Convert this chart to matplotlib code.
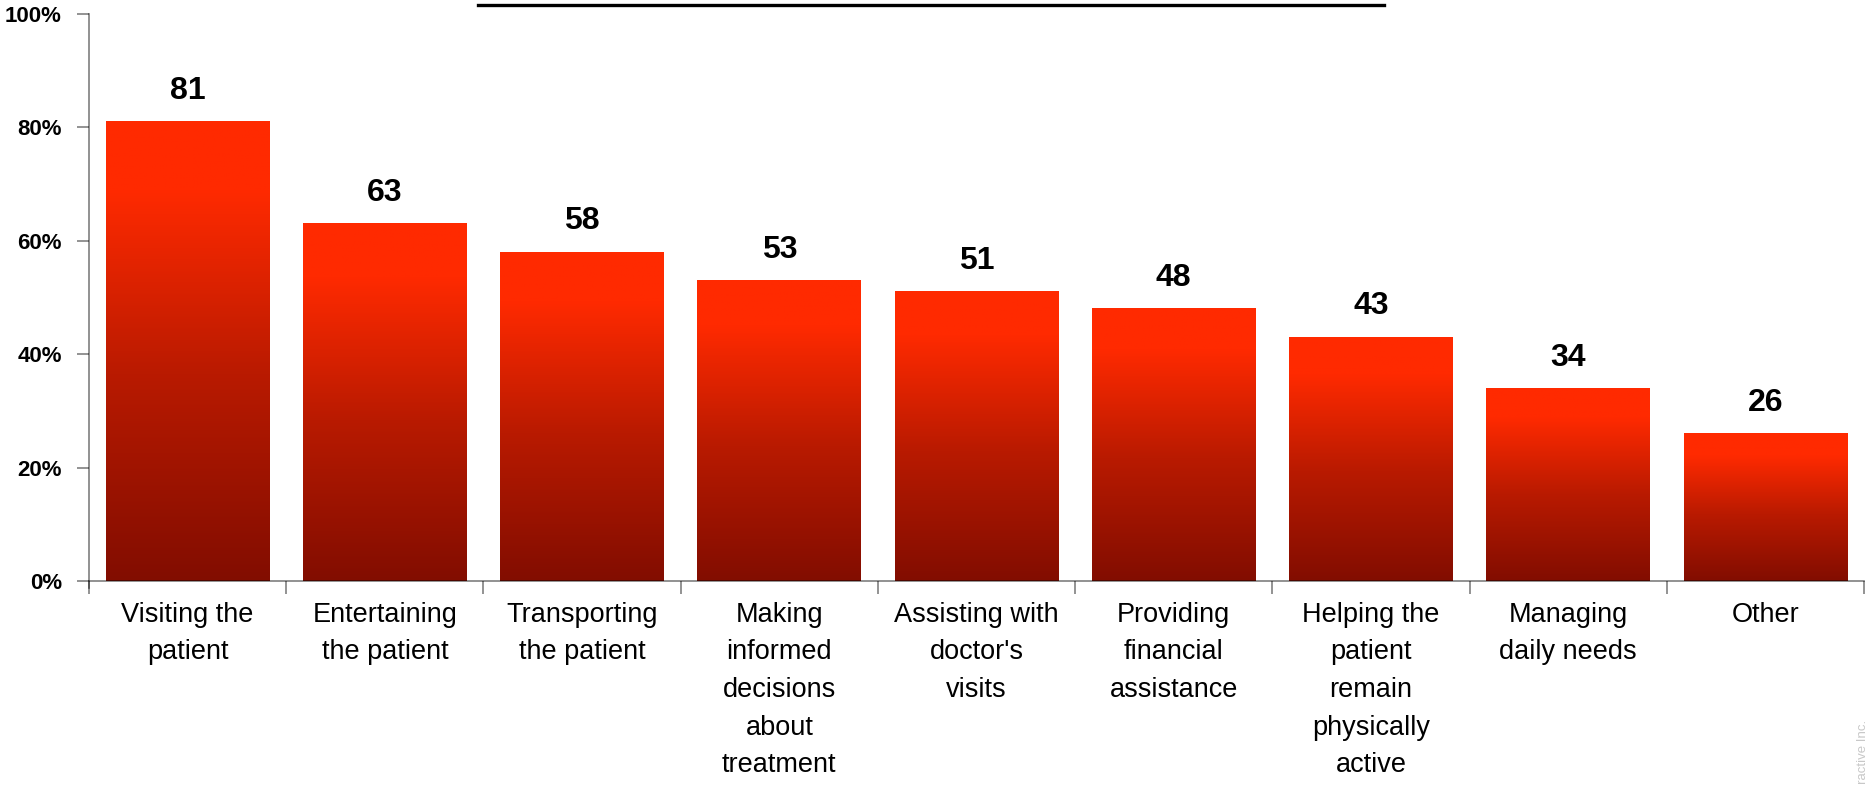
import numpy as np
import matplotlib
matplotlib.use("Agg")
import matplotlib.pyplot as plt
from matplotlib.colors import LinearSegmentedColormap
from matplotlib.lines import Line2D

plt.rcParams['font.family'] = ['Liberation Sans', 'DejaVu Sans']

categories = ["Visiting the\npatient", "Entertaining\nthe patient", "Transporting\nthe patient",
              "Making\ninformed\ndecisions\nabout\ntreatment", "Assisting with\ndoctor's\nvisits",
              "Providing\nfinancial\nassistance", "Helping the\npatient\nremain\nphysically\nactive",
              "Managing\ndaily needs", "Other"]
values = [81, 63, 58, 53, 51, 48, 43, 34, 26]

# dark red at the base fading up to bright red at the top of each bar
bar_cmap = LinearSegmentedColormap.from_list(
    "bar_red", [(0.0, "#820d00"), (0.45, "#b91a00"), (0.85, "#ff2a00"), (1.0, "#ff2a00")])
grad = np.linspace(0, 1, 256).reshape(-1, 1)

fig = plt.figure(figsize=(18.67, 7.85), dpi=100)
ax = fig.add_axes([0.0477, 0.2599, 0.9507, 0.7223])

x = np.arange(len(values))
bars = ax.bar(x, values, width=0.83, color='none', edgecolor='none')
for bar, v in zip(bars, values):
    x0 = bar.get_x()
    ax.imshow(grad, cmap=bar_cmap, origin='lower', aspect='auto', zorder=2,
              extent=(x0, x0 + bar.get_width(), 0, bar.get_height()))
    ax.text(bar.get_x() + bar.get_width() / 2, v + 4, f'{v}',
            ha='center', va='baseline', fontsize=23, fontweight='bold')

ax.set_xlim(-0.5, len(values) - 0.5)
ax.set_ylim(0, 100)

ax.set_yticks(np.arange(0, 101, 20))
ax.set_yticklabels([f'{t}%' for t in range(0, 101, 20)], fontsize=16, fontweight='bold')
ax.tick_params(axis='y', length=9, width=1.2, color='#808080', pad=10.5)

# boundaries get the tick marks, centres carry the labels
ax.set_xticks(np.arange(-0.5, len(values), 1.0))
ax.set_xticklabels([])
ax.tick_params(axis='x', which='major', length=9, width=1.2, color='#808080')
ax.set_xticks(x, minor=True)
ax.set_xticklabels(categories, minor=True, fontsize=19.5, linespacing=1.58)
ax.tick_params(axis='x', which='minor', length=0, pad=15)

for side in ['top', 'right']:
    ax.spines[side].set_visible(False)
for side in ['left', 'bottom']:
    ax.spines[side].set_color((0, 0, 0, 0.5))
    ax.spines[side].set_linewidth(1.2)
    ax.spines[side].set_zorder(3)
ax.spines['left'].set_bounds(-1.2, 100)

# underline of the heading at the top edge
fig.add_artist(Line2D([478 / 1867, 1384 / 1867], [1 - 5 / 785, 1 - 5 / 785],
                      color='black', linewidth=2.4))

fig.text(1863 / 1867, 1 - 720 / 785, 'Harris Interactive Inc.', rotation=90,
         ha='center', va='top', fontsize=9.5, color='#c8c8c8')

fig.savefig('out.png', dpi=100)
